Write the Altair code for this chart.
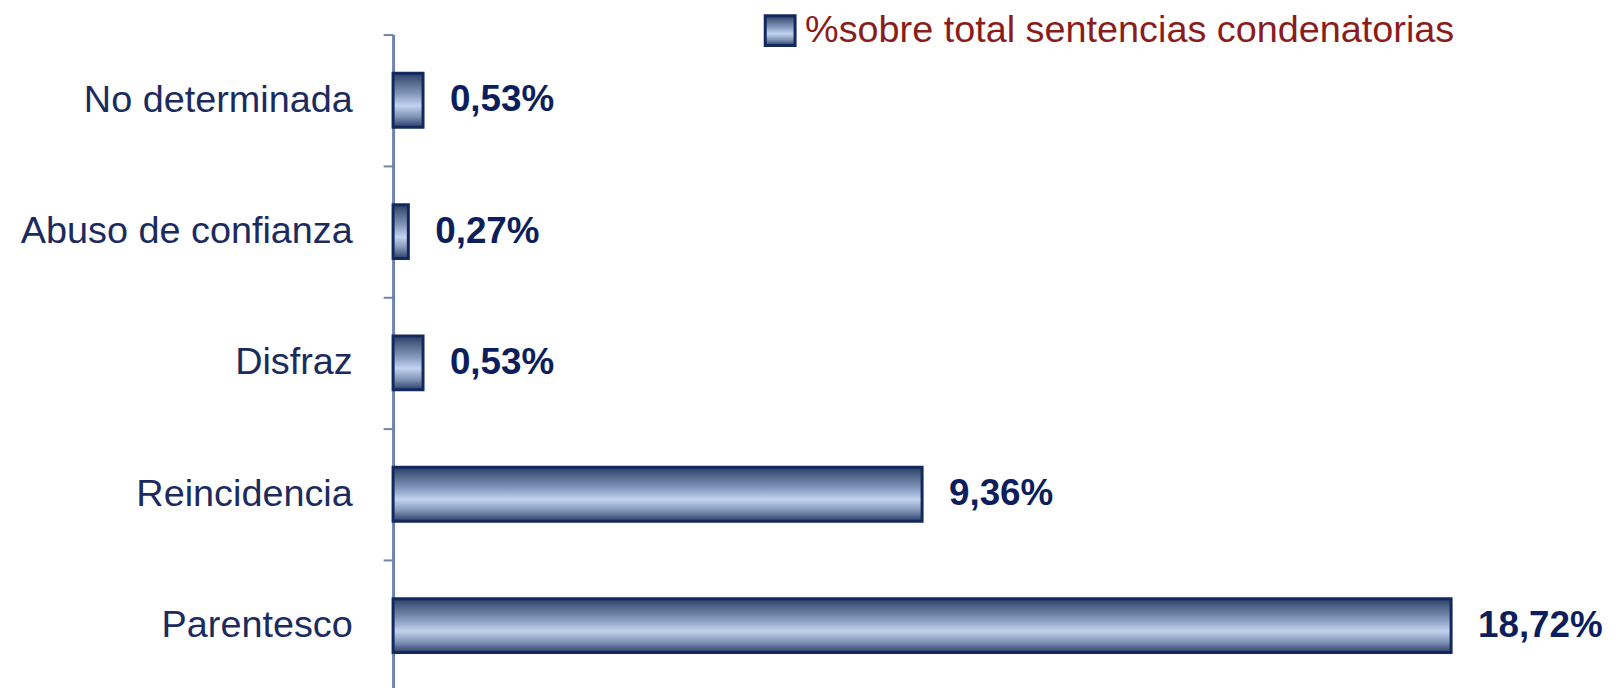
import altair as alt
import pandas as pd

categorias = ["No determinada", "Abuso de confianza", "Disfraz", "Reincidencia", "Parentesco"]
valores = [0.53, 0.27, 0.53, 9.36, 18.72]
etiquetas = ["0,53%", "0,27%", "0,53%", "9,36%", "18,72%"]
serie = "%sobre total sentencias condenatorias"

df = pd.DataFrame({"cat": categorias, "val": valores, "lab": etiquetas, "serie": [serie] * len(categorias)})

FONT = "Liberation Sans"

grad = alt.Gradient(
    gradient="linear", x1=0, y1=0, x2=0, y2=1,
    stops=[
        alt.GradientStop(color="#2a3e68", offset=0),
        alt.GradientStop(color="#4f6486", offset=0.15),
        alt.GradientStop(color="#8297bb", offset=0.38),
        alt.GradientStop(color="#c2d3f0", offset=0.6),
        alt.GradientStop(color="#8296b8", offset=0.8),
        alt.GradientStop(color="#2a3d68", offset=1),
    ],
)

y_enc = alt.Y("cat:N", sort=categorias, title=None,
              scale=alt.Scale(paddingInner=0, paddingOuter=0),
              axis=alt.Axis(tickBand="extent", domainColor="#6f84ad", domainWidth=3,
                            tickColor="#6f84ad", tickWidth=2, tickSize=10,
                            labelFont=FONT, labelFontSize=38, labelColor="#1b2b5e",
                            labelPadding=31, labelLimit=1000))
x_enc = alt.X("val:Q", scale=alt.Scale(domain=[0, 20]), axis=None)

bars = alt.Chart(df).mark_bar(fill=grad, strokeWidth=3, height={"band": 0.41}).encode(
    x=x_enc, y=y_enc,
    stroke=alt.Stroke("serie:N", scale=alt.Scale(range=["#13295e"]),
                      legend=alt.Legend(orient="none", legendX=370, legendY=-23, title=None,
                                        symbolType="square", symbolSize=900,
                                        symbolFillColor="#8ea2c6", symbolStrokeWidth=3,
                                        labelFont=FONT, labelFontSize=38, labelColor="#8b1c1c",
                                        labelLimit=1000, labelOffset=6, padding=0)),
)

texts = alt.Chart(df).mark_text(align="left", baseline="middle", dx=27, font=FONT,
                                fontSize=37, fontWeight="bold", color="#0c1f5c").encode(
    x=x_enc, y=alt.Y("cat:N", sort=categorias), text="lab:N")

chart = alt.layer(bars, texts).properties(
    width=1136, height=660,
    padding={"left": 387, "top": 25, "right": 89, "bottom": 0},
    autosize="none",
    background="white",
).configure_view(stroke=None)

chart.save("out.html", embed_options={"renderer": "svg", "actions": False})
